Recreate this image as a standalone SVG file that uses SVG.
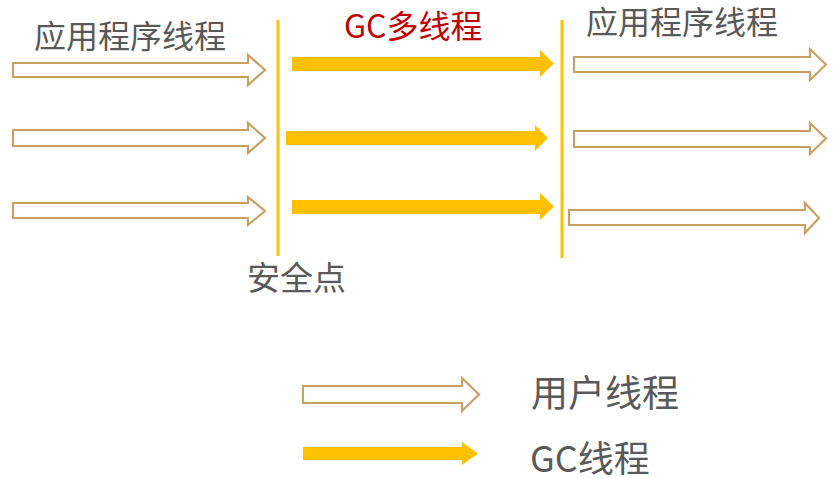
<svg xmlns="http://www.w3.org/2000/svg" width="840" height="479" viewBox="0 0 840 479">
<style>
.t{font-family:"Noto Sans CJK SC","Liberation Sans",sans-serif;fill:#595959}
.u{fill:#fff;stroke:#C9A063;stroke-width:2.2;stroke-linejoin:miter}
.g{fill:#FFC000}
.v{stroke:#FFC000;stroke-width:3;fill:none}
</style>
<rect width="840" height="479" fill="#fff"/>
<g id="labels">
<text class="t" x="34" y="48" font-size="32">应用程序线程</text>
<text x="344" y="38" font-size="32" font-family="Noto Sans CJK SC,Liberation Sans,sans-serif" fill="#C00000">GC多线程</text>
<text class="t" x="586" y="34" font-size="32">应用程序线程</text>
<text class="t" x="247" y="290" font-size="33">安全点</text>
<text class="t" x="531" y="407" font-size="37">用户线程</text>
<text class="t" x="530" y="472" font-size="36">GC线程</text>
</g>
<g id="safepoint-lines">
<line class="v" x1="278" y1="20" x2="278" y2="256"/>
<line class="v" x1="562" y1="20" x2="562" y2="258"/>
</g>
<g id="app-threads-before">
<path class="u" d="M13,63 H248 V55 L265,70 L248,85 V77 H13 Z"/>
<path class="u" d="M13,130 H248 V123 L265,138 L248,153 V146 H13 Z"/>
<path class="u" d="M13,203 H248 V197 L265,211 L248,225 V218 H13 Z"/>
</g>
<g id="gc-threads">
<path class="g" d="M292,57 H540 V50 L554,63.5 L540,77 V71 H292 Z"/>
<path class="g" d="M286,131 H535 V125 L548,138 L535,151 V145 H286 Z"/>
<path class="g" d="M292,200 H540 V193 L554,206.5 L540,220 V214 H292 Z"/>
</g>
<g id="app-threads-after">
<path class="u" d="M574,57 H810 V49 L826,64.5 L810,80 V72 H574 Z"/>
<path class="u" d="M574,131 H810 V123 L826,138.5 L810,154 V147 H574 Z"/>
<path class="u" d="M569,210 H805 V203 L819,218 L805,233 V225 H569 Z"/>
</g>
<g id="legend">
<path class="u" d="M303,386 H462 V378 L479,394.5 L462,411 V403 H303 Z"/>
<path class="g" d="M303,447 H462 V442 L478,453.5 L462,465 V460 H303 Z"/>
</g>
</svg>
